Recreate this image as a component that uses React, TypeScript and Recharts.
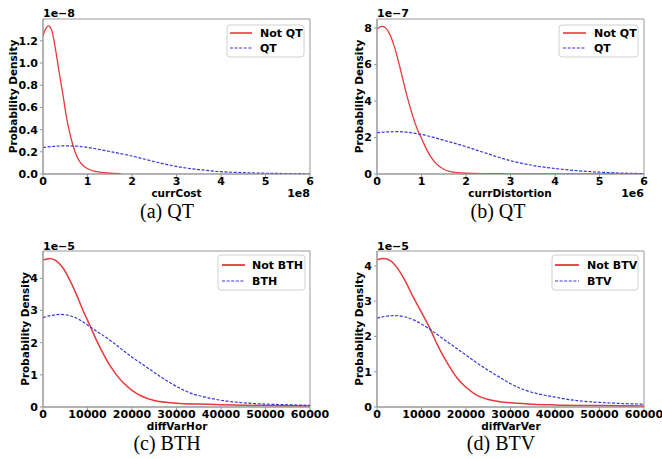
import React from 'react';
import { LineChart, Line, XAxis, YAxis, ReferenceArea } from 'recharts';

// ---------- Panel (a): currCost (x ×1e8, density ×1e-8) ----------
const aXTicks = [0, 1, 2, 3, 4, 5, 6];
const aYTicks = [0, 0.2, 0.4, 0.6, 0.8, 1.0, 1.2];
const aNotX = [0, 0.05, 0.12, 0.2, 0.27, 0.35, 0.4, 0.45, 0.52, 0.6, 0.68, 0.75, 0.83, 0.92, 1.02, 1.15, 1.3, 1.45, 1.6, 1.75];
const aNotY = [1.245, 1.3, 1.335, 1.29, 1.15, 0.95, 0.83, 0.71, 0.53, 0.37, 0.25, 0.17, 0.11, 0.07, 0.045, 0.025, 0.015, 0.009, 0.006, 0.004];
const aYesX = [0, 0.25, 0.5, 0.75, 1, 1.25, 1.5, 1.75, 2, 2.5, 3, 3.5, 4, 4.5, 5, 5.5, 6];
const aYesY = [0.24, 0.249, 0.254, 0.251, 0.24, 0.222, 0.203, 0.183, 0.162, 0.112, 0.068, 0.04, 0.021, 0.012, 0.007, 0.004, 0.002];

// ---------- Panel (b): currDistortion (x ×1e6, density ×1e-7) ----------
const bXTicks = [0, 1, 2, 3, 4, 5, 6];
const bYTicks = [0, 2, 4, 6, 8];
const bNotX = [0, 0.05, 0.12, 0.2, 0.3, 0.4, 0.5, 0.6, 0.7, 0.8, 0.9, 1.0, 1.1, 1.2, 1.3, 1.4, 1.5, 1.65, 1.8, 2.0, 2.5, 3, 4, 5, 6];
const bNotY = [7.95, 8.05, 8.1, 8.0, 7.6, 6.9, 6.0, 5.0, 4.05, 3.2, 2.5, 1.95, 1.42, 0.98, 0.65, 0.42, 0.26, 0.13, 0.07, 0.04, 0.02, 0.01, 0.005, 0.003, 0.002];
const bYesX = [0, 0.25, 0.5, 0.75, 1, 1.25, 1.5, 1.75, 2, 2.5, 3, 3.5, 4, 4.5, 5, 5.5, 6];
const bYesY = [2.27, 2.31, 2.32, 2.27, 2.17, 2.02, 1.85, 1.68, 1.5, 1.1, 0.73, 0.47, 0.3, 0.18, 0.1, 0.05, 0.02];

// ---------- Panel (c): diffVarHor (density ×1e-5) ----------
const cXTicks = [0, 10000, 20000, 30000, 40000, 50000, 60000];
const cYTicks = [0, 1, 2, 3, 4];
const cNotX = [0, 1500, 3000, 4500, 6000, 7500, 9000, 10500, 12000, 13500, 15000, 16500, 18000, 20000, 22000, 25000, 28000, 30000, 35000, 40000, 50000, 60000];
const cNotY = [4.57, 4.62, 4.54, 4.32, 3.95, 3.5, 3.0, 2.55, 2.08, 1.67, 1.3, 1.0, 0.76, 0.52, 0.35, 0.2, 0.14, 0.12, 0.09, 0.07, 0.045, 0.03];
const cYesX = [0, 2000, 4000, 6000, 8000, 10000, 12000, 14000, 16000, 18000, 20000, 22000, 24000, 26000, 28000, 30000, 33000, 36000, 40000, 45000, 50000, 55000, 60000];
const cYesY = [2.78, 2.85, 2.88, 2.84, 2.73, 2.55, 2.36, 2.18, 1.98, 1.76, 1.55, 1.36, 1.17, 0.98, 0.8, 0.64, 0.44, 0.32, 0.21, 0.13, 0.09, 0.07, 0.05];

// ---------- Panel (d): diffVarVer (density ×1e-5) ----------
const dXTicks = [0, 10000, 20000, 30000, 40000, 50000, 60000];
const dYTicks = [0, 1, 2, 3, 4];
const dNotX = [0, 1500, 3000, 4500, 6000, 8000, 9700, 12000, 13500, 15000, 16500, 18000, 20000, 22500, 25000, 28000, 30000, 35000, 40000, 50000, 60000];
const dNotY = [4.17, 4.21, 4.15, 3.95, 3.65, 3.15, 2.75, 2.2, 1.78, 1.42, 1.1, 0.82, 0.56, 0.33, 0.21, 0.14, 0.12, 0.08, 0.06, 0.04, 0.03];
const dYesX = [0, 2000, 4000, 6000, 8000, 10000, 12000, 14000, 16000, 18000, 20000, 22000, 24000, 26000, 28000, 30000, 33000, 36000, 40000, 45000, 50000, 55000, 60000];
const dYesY = [2.52, 2.57, 2.59, 2.56, 2.48, 2.35, 2.19, 2.01, 1.83, 1.65, 1.47, 1.29, 1.12, 0.96, 0.81, 0.66, 0.49, 0.38, 0.28, 0.18, 0.13, 0.1, 0.08];

const zip = (xs: number[], ys: number[]) => xs.map((x, i) => ({ x, y: ys[i] }));

const RED = '#e8393b';
const BLUE = '#3535dd';
const FRAME = '#999999';
const SANS = 'DejaVu Sans';
const SERIF = 'Liberation Serif';

type PanelProps = {
  cellX: number; cellY: number; yAxisW: number; xAxisH: number; top: number; right: number;
  xDomain: [number, number]; xTicks: number[]; yDomain: [number, number]; yTicks: number[];
  yFmt: (v: number) => string;
  red: { x: number; y: number }[]; blue: { x: number; y: number }[]; redW: number;
  yExp: string; xExp?: string; xLabel: string; xLabelX: number; xLabelY: number;
  yLabelX: number; yLabelY: number; offY: number;
  leg: { x: number; y: number; w: number; h: number; lx1: number; lx2: number; tx: number; y1: number; y2: number };
  names: [string, string]; caption: string; capX: number; capY: number;
};

function Panel(p: PanelProps) {
  const plotL = p.yAxisW;
  const plotR = 331 - p.right;
  const tickStyle = { fontSize: 11, fontWeight: 700, fill: '#000', fontFamily: SANS };
  return (
    <div style={{ position: 'absolute', left: p.cellX, top: p.cellY, width: 331, height: 230 }}>
      <LineChart width={331} height={230} margin={{ top: p.top, right: p.right, left: 0, bottom: 0 }}>
        <XAxis
          type="number" dataKey="x" domain={p.xDomain} ticks={p.xTicks} interval={0}
          allowDataOverflow height={p.xAxisH} tickSize={3} tickMargin={0}
          stroke={FRAME} tick={tickStyle}
        />
        <YAxis
          type="number" domain={p.yDomain} ticks={p.yTicks} interval={0}
          allowDataOverflow width={p.yAxisW} tickSize={3} tickMargin={2}
          stroke={FRAME} tick={tickStyle} tickFormatter={p.yFmt}
        />
        <ReferenceArea x1={p.xDomain[0]} x2={p.xDomain[1]} y1={p.yDomain[0]} y2={p.yDomain[1]}
          fill="none" stroke={FRAME} strokeWidth={1} fillOpacity={0} />
        <Line data={p.red} dataKey="y" type="monotone" stroke={RED} strokeWidth={p.redW}
          dot={false} isAnimationActive={false} />
        <Line data={p.blue} dataKey="y" type="monotone" stroke={BLUE} strokeWidth={1.2}
          strokeDasharray="3 1.6" dot={false} isAnimationActive={false} />
      </LineChart>
      <svg width={331} height={230} style={{ position: 'absolute', left: 0, top: 0, pointerEvents: 'none' }}>
        <text x={plotL} y={p.offY} fontFamily={SANS} fontWeight={700} fontSize={11} fill="#000">{p.yExp}</text>
        <text x={p.xLabelX} y={p.xLabelY} textAnchor="middle" fontFamily={SANS} fontWeight={700} fontSize={10.5} fill="#000">{p.xLabel}</text>
        {p.xExp ? (
          <text x={plotR} y={p.xLabelY} textAnchor="end" fontFamily={SANS} fontWeight={700} fontSize={11} fill="#000">{p.xExp}</text>
        ) : null}
        <text x={p.yLabelX} y={p.yLabelY} textAnchor="middle" dominantBaseline="central"
          transform={`rotate(-90 ${p.yLabelX} ${p.yLabelY})`}
          fontFamily={SANS} fontWeight={700} fontSize={10.5} fill="#000">Probability Density</text>
        <rect x={p.leg.x} y={p.leg.y} width={p.leg.w} height={p.leg.h} rx={3} fill="#fff" fillOpacity={0.85} stroke="#d0d0d0" strokeWidth={1} />
        <line x1={p.leg.lx1} x2={p.leg.lx2} y1={p.leg.y1} y2={p.leg.y1} stroke={RED} strokeWidth={p.redW + 0.3} />
        <text x={p.leg.tx} y={p.leg.y1 + 4} fontFamily={SANS} fontWeight={700} fontSize={11} fill="#000">{p.names[0]}</text>
        <line x1={p.leg.lx1} x2={p.leg.lx2} y1={p.leg.y2} y2={p.leg.y2} stroke={BLUE} strokeWidth={1.2} strokeDasharray="3 1.6" />
        <text x={p.leg.tx} y={p.leg.y2 + 4} fontFamily={SANS} fontWeight={700} fontSize={11} fill="#000">{p.names[1]}</text>
        <text x={p.capX} y={p.capY} textAnchor="middle" fontFamily={SERIF} fontSize={20} fill="#000">{p.caption}</text>
      </svg>
    </div>
  );
}

const fmt1 = (v: number) => v.toFixed(1);
const fmt0 = (v: number) => String(v);

export default function App() {
  return (
    <div style={{ position: 'absolute', left: 0, top: 0, width: 662, height: 459, background: '#fff', overflow: 'hidden' }}>
      <Panel
        cellX={0} cellY={0} yAxisW={43} xAxisH={56} top={19} right={21}
        xDomain={[0, 6]} xTicks={aXTicks} yDomain={[0, 1.397]} yTicks={aYTicks} yFmt={fmt1}
        red={zip(aNotX, aNotY)} blue={zip(aYesX, aYesY)} redW={1.3}
        yExp="1e−8" xExp="1e8" xLabel="currCost" xLabelX={176.5} xLabelY={197}
        yLabelX={13} yLabelY={96.5} offY={17}
        leg={{ x: 227, y: 25, w: 77, h: 32, lx1: 230, lx2: 252, tx: 260, y1: 33, y2: 48 }}
        names={['Not QT', 'QT']} caption="(a) QT" capX={167} capY={218}
      />
      <Panel
        cellX={331} cellY={0} yAxisW={46} xAxisH={56} top={19} right={18}
        xDomain={[0, 6]} xTicks={bXTicks} yDomain={[0, 8.5]} yTicks={bYTicks} yFmt={fmt0}
        red={zip(bNotX, bNotY)} blue={zip(bYesX, bYesY)} redW={1.3}
        yExp="1e−7" xExp="1e6" xLabel="currDistortion" xLabelX={179} xLabelY={197}
        yLabelX={28} yLabelY={96.5} offY={17}
        leg={{ x: 228, y: 25, w: 79, h: 32, lx1: 232, lx2: 255, tx: 263, y1: 33, y2: 48 }}
        names={['Not QT', 'QT']} caption="(b) QT" capX={167} capY={218}
      />
      <Panel
        cellX={0} cellY={230} yAxisW={43} xAxisH={53} top={21} right={21}
        xDomain={[0, 60000]} xTicks={cXTicks} yDomain={[0, 4.85]} yTicks={cYTicks} yFmt={fmt0}
        red={zip(cNotX, cNotY)} blue={zip(cYesX, cYesY)} redW={1.5}
        yExp="1e−5" xLabel="diffVarHor" xLabelX={177} xLabelY={200}
        yLabelX={25} yLabelY={99} offY={20}
        leg={{ x: 218, y: 25, w: 87, h: 35, lx1: 222, lx2: 245, tx: 252, y1: 35, y2: 51 }}
        names={['Not BTH', 'BTH']} caption="(c) BTH" capX={167} capY={220}
      />
      <Panel
        cellX={331} cellY={230} yAxisW={46} xAxisH={53} top={21} right={18}
        xDomain={[0, 60000]} xTicks={dXTicks} yDomain={[0, 4.42]} yTicks={dYTicks} yFmt={fmt0}
        red={zip(dNotX, dNotY)} blue={zip(dYesX, dYesY)} redW={1.5}
        yExp="1e−5" xLabel="diffVarVer" xLabelX={180} xLabelY={200}
        yLabelX={28} yLabelY={99} offY={20}
        leg={{ x: 221, y: 25, w: 86, h: 35, lx1: 224, lx2: 248, tx: 256, y1: 35, y2: 51 }}
        names={['Not BTV', 'BTV']} caption="(d) BTV" capX={170} capY={220}
      />
    </div>
  );
}
